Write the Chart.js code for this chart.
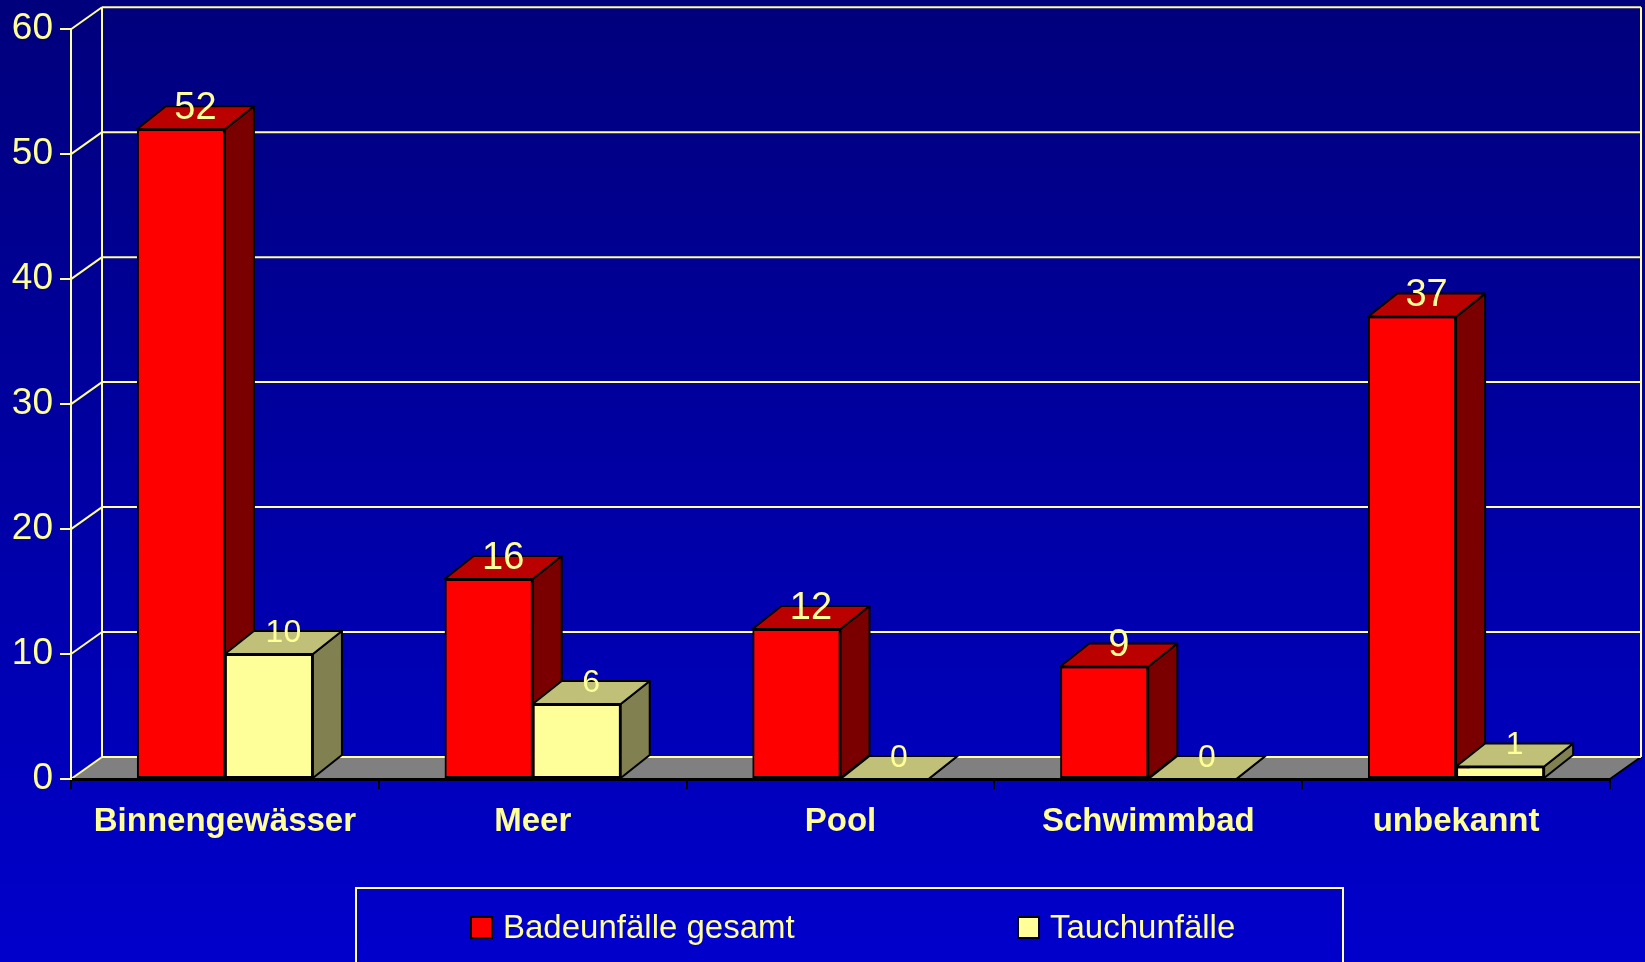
<!DOCTYPE html>
<html>
<head>
<meta charset="utf-8">
<script src="https://cdn.jsdelivr.net/npm/chart.js@4/dist/chart.umd.min.js"></script>
<style>
    html, body { margin: 0; padding: 0; }
    body { background: linear-gradient(to bottom, #00007c, #0000cc); width: 1645px; height: 962px; overflow: hidden; }
    #wrap { position: relative; width: 1645px; height: 962px; }
</style>
</head>
<body>
<div id="wrap"><canvas id="chart"></canvas></div>
<script>
// data
const categories = ["Binnengewässer", "Meer", "Pool", "Schwimmbad", "unbekannt"];
const seriesNames = ["Badeunfälle gesamt", "Tauchunfälle"];
const badeunfaelle = [52, 16, 12, 9, 37];
const tauchunfaelle = [10, 6, 0, 0, 1];
const yMin = 0;
const yMax = 60;
const yStep = 10;

const FONT = "'Liberation Sans', Arial, sans-serif";
const TEXT = "#ffff99";

// colours per series: front, top, side
const faces = [
    { front: "#ff0000", top: "#bb0000", side: "#7a0000", labelSize: 38 },
    { front: "#ffff99", top: "#c0c078", side: "#808050", labelSize: 32 },
];

// 3d offsets
const WALL_DX = 31, WALL_DY = -22;
const BAR_DX = 29, BAR_DY = -23;

function poly(ctx, pts, fill, stroke, lw) {
    ctx.beginPath();
    ctx.moveTo(pts[0][0], pts[0][1]);
    for (let i = 1; i < pts.length; i++) ctx.lineTo(pts[i][0], pts[i][1]);
    ctx.closePath();
    if (fill) { ctx.fillStyle = fill; ctx.fill(); }
    if (stroke) { ctx.strokeStyle = stroke; ctx.lineWidth = lw || 2; ctx.stroke(); }
}

function line(ctx, x1, y1, x2, y2, color, lw) {
    ctx.beginPath();
    ctx.moveTo(x1, y1);
    ctx.lineTo(x2, y2);
    ctx.strokeStyle = color;
    ctx.lineWidth = lw || 2;
    ctx.stroke();
}

const depthPlugin = {
    id: "depth",
    beforeDraw(chart) {
        const ctx = chart.ctx;
        const a = chart.chartArea;
        const y = chart.scales.y;
        ctx.save();
        // floor
        poly(ctx, [[a.left, a.bottom], [a.left + WALL_DX, a.bottom + WALL_DY],
                   [a.right + WALL_DX, a.bottom + WALL_DY], [a.right, a.bottom]], "#808080");
        line(ctx, a.right, a.bottom, a.right + WALL_DX, a.bottom + WALL_DY, "#000", 2);
        // back wall + left wall lines
        for (let v = yMin; v <= yMax; v += yStep) {
            const py = y.getPixelForValue(v);
            line(ctx, a.left, py, a.left + WALL_DX, py + WALL_DY, TEXT, 2);
            line(ctx, a.left + WALL_DX, py + WALL_DY, a.right + WALL_DX, py + WALL_DY, TEXT, 2);
        }
        line(ctx, a.left + WALL_DX, a.top + WALL_DY, a.left + WALL_DX, a.bottom + WALL_DY, TEXT, 2);
        line(ctx, a.right + WALL_DX, a.top + WALL_DY, a.right + WALL_DX, a.bottom + WALL_DY, TEXT, 2);
        ctx.restore();
    },
    afterDatasetsDraw(chart) {
        const ctx = chart.ctx;
        ctx.save();
        ctx.lineJoin = "round";
        // chart.js paints the last dataset first, so repaint the blocks front to back per series
        chart.data.datasets.forEach((ds, i) => {
            const f = faces[i];
            chart.getDatasetMeta(i).data.forEach((bar) => {
                const p = bar.getProps(["x", "y", "base", "width"], true);
                const l = p.x - p.width / 2, r = p.x + p.width / 2;
                bar.draw(ctx, chart.chartArea);
                poly(ctx, [[r, p.y], [r + BAR_DX, p.y + BAR_DY], [r + BAR_DX, p.base + BAR_DY], [r, p.base]],
                     f.side, "#000", 2);
                poly(ctx, [[l, p.y], [l + BAR_DX, p.y + BAR_DY], [r + BAR_DX, p.y + BAR_DY], [r, p.y]],
                     f.top, "#000", 2);
            });
        });
        // value labels
        ctx.fillStyle = TEXT;
        ctx.textAlign = "center";
        ctx.textBaseline = "middle";
        chart.data.datasets.forEach((ds, i) => {
            ctx.font = faces[i].labelSize + "px " + FONT;
            chart.getDatasetMeta(i).data.forEach((bar, j) => {
                const p = bar.getProps(["x", "y"], true);
                ctx.fillText(String(ds.data[j]), p.x + BAR_DX / 2, p.y + BAR_DY + 2);
            });
        });
        ctx.restore();
    },
    afterDraw(chart) {
        // legend box
        const ctx = chart.ctx;
        ctx.save();
        ctx.strokeStyle = TEXT;
        ctx.lineWidth = 2;
        ctx.strokeRect(356, 888, 987, 120);
        const itemX = [471, 1018];
        ctx.font = "33px " + FONT;
        ctx.textBaseline = "middle";
        ctx.textAlign = "left";
        chart.data.datasets.forEach((ds, i) => {
            ctx.fillStyle = ds.backgroundColor;
            ctx.fillRect(itemX[i], 917, 21, 21);
            ctx.strokeStyle = "#000";
            ctx.lineWidth = 2;
            ctx.strokeRect(itemX[i], 917, 21, 21);
            ctx.fillStyle = TEXT;
            ctx.fillText(ds.label, itemX[i] + 32, 929);
        });
        ctx.restore();
    },
};

new Chart(document.getElementById("chart"), {
    type: "bar",
    data: {
        labels: categories,
        datasets: [
            {
                label: seriesNames[0],
                data: badeunfaelle,
                backgroundColor: faces[0].front,
                borderColor: "#000",
                borderWidth: 2,
                borderSkipped: false,
            },
            {
                label: seriesNames[1],
                data: tauchunfaelle,
                backgroundColor: faces[1].front,
                borderColor: "#000",
                borderWidth: 2,
                borderSkipped: false,
            },
        ],
    },
    options: {
        responsive: true,
        maintainAspectRatio: false,
        animation: false,
        layout: { padding: { top: 26, right: 35, left: 0, bottom: 0 } },
        datasets: { bar: { categoryPercentage: 0.572, barPercentage: 1 } },
        plugins: {
            legend: { display: false },
            tooltip: { enabled: false },
        },
        scales: {
            x: {
                afterFit: (scale) => { scale.height = 183; },
                grid: { drawOnChartArea: false, color: "#000", lineWidth: 2, tickLength: 10 },
                border: { color: "#000", width: 3 },
                ticks: { color: TEXT, font: { family: FONT, size: 33, weight: "bold" }, padding: 13, maxRotation: 0 },
            },
            y: {
                min: yMin,
                max: yMax,
                afterFit: (scale) => { scale.width = 71; },
                grid: { drawOnChartArea: false, color: TEXT, lineWidth: 2, tickLength: 11 },
                border: { color: TEXT, width: 2 },
                ticks: { stepSize: yStep, color: TEXT, font: { family: FONT, size: 37 }, padding: 7 },
            },
        },
    },
    plugins: [depthPlugin],
});
</script>
</body>
</html>
